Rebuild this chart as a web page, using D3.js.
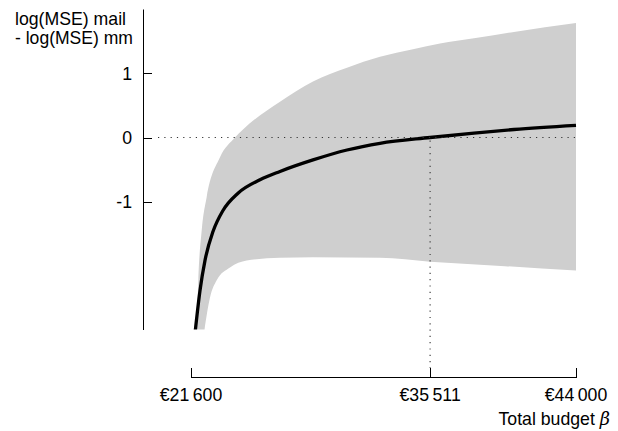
<!DOCTYPE html>
<html>
<head>
<meta charset="utf-8">
<script src="https://cdn.jsdelivr.net/npm/d3@7"></script>
<style>
  html, body { margin: 0; padding: 0; background: #fff; }
  svg { display: block; font-family: "Liberation Sans", Arial, Helvetica, sans-serif; }
</style>
</head>
<body>
<svg id="chart" width="618" height="431"></svg>
<script>
// Mean difference of log(MSE) between the two designs, by total budget
const budget   = [21833, 22124, 22415, 22880, 23462, 24335, 25615, 26778, 28698, 30676, 32596, 35511, 38065, 40392, 44000];
const meanDiff = [-3.06, -2.39, -1.92, -1.47, -1.14, -0.87, -0.66, -0.53, -0.35, -0.195, -0.09, 0.00, 0.07, 0.125, 0.19];

// Upper edge of the uncertainty band
const upperBudget = [21932, 22025, 22223, 22513, 23287, 24160, 24625, 26778, 28698, 30676, 32596, 34516, 36087, 38065, 40392, 44000];
const upperDiff   = [-3.06, -2.23, -1.45, -0.93, -0.31, 0.00, 0.125, 0.56, 0.875, 1.09, 1.26, 1.38, 1.47, 1.55, 1.65, 1.79];

// Lower edge of the uncertainty band
const lowerBudget = [22356, 22705, 23095, 23869, 24841, 26778, 28698, 32596, 35511, 39868, 44000];
const lowerDiff   = [-3.06, -2.50, -2.23, -2.03, -1.92, -1.88, -1.87, -1.88, -1.94, -2.01, -2.08];

const yTicks = [1, 0, -1];
const xTicks = [21600, 35511, 44000];
const breakEven = 35511;

const FS = 17.7;
const svg = d3.select("#chart");

const x = d3.scaleLinear().domain([21600, 44000]).range([191, 576]);
const y = d3.scaleLinear().domain([-3, 2]).range([329.5, 9.5]);

const fmtEuro = v => "\u20AC" + d3.format(",")(v).replace(",", "\u2009");

// clip to the plotting region (band is cut at the bottom of the y axis)
svg.append("defs").append("clipPath").attr("id", "plot")
  .append("rect").attr("x", x(21600) - 10).attr("y", 0)
  .attr("width", x(44000) - x(21600) + 12).attr("height", y(-3));

const edge = d3.line().x(d => x(d[0])).y(d => y(d[1])).curve(d3.curveMonotoneX);
const upperPts = upperBudget.map((b, i) => [b, upperDiff[i]]);
const lowerPts = lowerBudget.map((b, i) => [b, lowerDiff[i]]);
// lower edge drawn right-to-left to close the band
const lowerPath = edge(lowerPts.slice().reverse());
const bandPath = edge(upperPts) + "L" + lowerPath.slice(1) + "Z";

const g = svg.append("g").attr("clip-path", "url(#plot)");
g.append("path").attr("d", bandPath).attr("fill", "#cfcfcf");

// reference lines: zero difference and break-even budget
svg.append("line")
  .attr("x1", 158).attr("x2", x(44000))
  .attr("y1", y(0)).attr("y2", y(0))
  .attr("stroke", "#333").attr("stroke-width", 1.1).attr("stroke-dasharray", "1.2,5.1");
svg.append("line")
  .attr("x1", x(breakEven)).attr("x2", x(breakEven))
  .attr("y1", y(0) + 3).attr("y2", 368)
  .attr("stroke", "#333").attr("stroke-width", 1.1).attr("stroke-dasharray", "1.2,5.1");

g.append("path")
  .datum(budget.map((b, i) => [b, meanDiff[i]]))
  .attr("d", edge)
  .attr("fill", "none").attr("stroke", "#000").attr("stroke-width", 3.3)
  .attr("stroke-linejoin", "round");

// y axis
const yAxis = svg.append("g");
yAxis.append("line").attr("x1", 143.5).attr("x2", 143.5).attr("y1", 9.5).attr("y2", 330)
  .attr("stroke", "#000").attr("stroke-width", 1);
yAxis.selectAll("line.tick").data(yTicks).join("line").attr("class", "tick")
  .attr("x1", 143.5).attr("x2", 152).attr("y1", d => Math.round(y(d)) + 0.5).attr("y2", d => Math.round(y(d)) + 0.5)
  .attr("stroke", "#000").attr("stroke-width", 1);
yAxis.selectAll("text").data(yTicks).join("text")
  .attr("x", 132).attr("y", d => y(d)).attr("dy", "0.36em")
  .attr("text-anchor", "end").style("font-size", FS + "px").attr("fill", "#000")
  .text(d => d);

svg.append("text").attr("x", 15).attr("y", 25).style("font-size", FS + "px")
  .attr("textLength", 111).attr("lengthAdjust", "spacingAndGlyphs").text("log(MSE) mail");
svg.append("text").attr("x", 15).attr("y", 43.5).style("font-size", FS + "px")
  .attr("textLength", 118).attr("lengthAdjust", "spacingAndGlyphs").text("- log(MSE) mm");

// x axis
const xAxis = svg.append("g");
xAxis.append("line").attr("x1", x(21600)).attr("x2", x(44000)).attr("y1", 377.5).attr("y2", 377.5)
  .attr("stroke", "#000").attr("stroke-width", 1);
xAxis.selectAll("line.tick").data(xTicks).join("line").attr("class", "tick")
  .attr("x1", d => Math.round(x(d)) + 0.5).attr("x2", d => Math.round(x(d)) + 0.5)
  .attr("y1", 368).attr("y2", 378)
  .attr("stroke", "#000").attr("stroke-width", 1);
xAxis.selectAll("text").data(xTicks).join("text")
  .attr("x", d => x(d)).attr("y", 400.5)
  .attr("text-anchor", "middle").style("font-size", FS + "px").attr("fill", "#000")
  .text(fmtEuro);

const xt = svg.append("text").attr("x", 610).attr("y", 424.5).attr("text-anchor", "end").style("font-size", FS + "px");
xt.append("tspan").text("Total budget ");
xt.append("tspan").attr("font-style", "italic").attr("font-family", "'DejaVu Serif', serif").text("\u03B2");
</script>
</body>
</html>
